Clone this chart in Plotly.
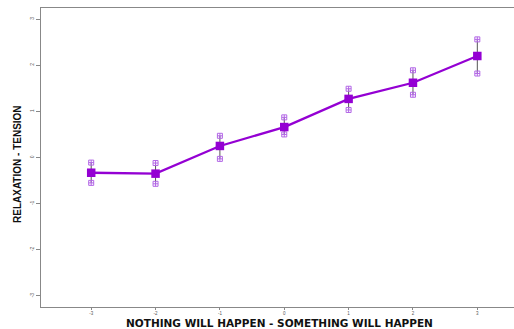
import plotly.graph_objects as go

# Scale positions and mean ratings with their error margins
levels = [-3, -2, -1, 0, 1, 2, 3]
means = [-0.33, -0.35, 0.25, 0.66, 1.27, 1.62, 2.20]
err_up = [0.22, 0.23, 0.22, 0.21, 0.22, 0.27, 0.36]
err_down = [0.22, 0.22, 0.28, 0.16, 0.24, 0.26, 0.38]
y_ticks = [-3, -2, -1, 0, 1, 2, 3]
x_title = "NOTHING WILL HAPPEN - SOMETHING WILL HAPPEN"
y_title = "RELAXATION - TENSION"

purple = "#9400D3"
cap_color = "#B266E6"

upper = [m + e for m, e in zip(means, err_up)]
lower = [m - e for m, e in zip(means, err_down)]

fig = go.Figure()

# error bars (thin dark stems)
fig.add_trace(go.Scatter(
    x=levels, y=means, mode="markers",
    marker=dict(size=1, color="rgba(0,0,0,0)"),
    error_y=dict(type="data", symmetric=False, array=err_up, arrayminus=err_down,
                 color="#555555", thickness=1, width=0),
    hoverinfo="skip", showlegend=False,
))

# open boxed caps at both ends of each bar
fig.add_trace(go.Scatter(
    x=levels + levels, y=upper + lower, mode="markers",
    marker=dict(symbol="square-cross-open", size=5, color=cap_color,
                line=dict(width=1, color=cap_color)),
    showlegend=False,
))

# mean line with square markers
fig.add_trace(go.Scatter(
    x=levels, y=means, mode="lines+markers",
    line=dict(color=purple, width=2.3),
    marker=dict(symbol="square", size=8.5, color=purple),
    showlegend=False,
))

fig.update_layout(
    width=514, height=329,
    margin=dict(l=41, r=0, t=8, b=22),
    paper_bgcolor="white", plot_bgcolor="white",
    font=dict(family="Liberation Sans, Arial, sans-serif", color="#444444"),
    xaxis=dict(
        range=[-3.78, 3.57], tickmode="array", tickvals=levels,
        ticktext=[str(v) for v in levels],
        showgrid=False, zeroline=False,
        showline=True, linecolor="#888888", linewidth=1, mirror=True,
        ticks="outside", ticklen=2, tickcolor="#888888",
        tickfont=dict(size=4.5, color="#555555"),
    ),
    yaxis=dict(
        range=[-3.24, 3.24], tickmode="array", tickvals=y_ticks,
        ticktext=[str(v) for v in y_ticks], tickangle=-90,
        showgrid=False, zeroline=False,
        showline=True, linecolor="#888888", linewidth=1, mirror=False,
        ticks="outside", ticklen=4, tickcolor="#888888",
        tickfont=dict(size=5, color="#555555"),
    ),
    annotations=[
        dict(text="<b>" + x_title + "</b>", xref="paper", yref="paper",
             x=(279 - 41) / 473, y=0, yshift=-16, xanchor="center", yanchor="middle",
             showarrow=False, borderpad=0,
             font=dict(family="DejaVu Sans, Verdana, sans-serif", size=10.5, color="#111111")),
        dict(text="<b>" + y_title + "</b>", xref="paper", yref="paper",
             x=0, xshift=-24, y=(307 - 164) / 299, textangle=-90,
             xanchor="center", yanchor="middle", showarrow=False,
             font=dict(family="Liberation Sans Narrow, Arial Narrow, Liberation Sans, sans-serif",
                       size=10, color="#111111")),
    ],
)

fig.write_html("out.html")
